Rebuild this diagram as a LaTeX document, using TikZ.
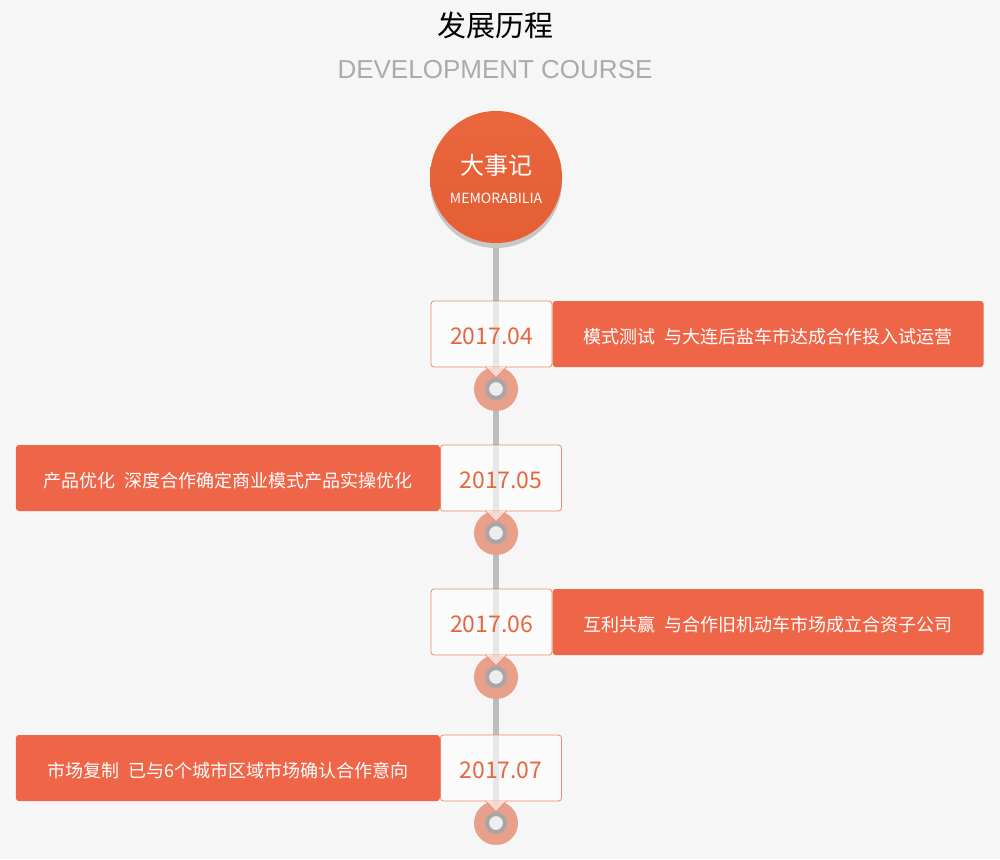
\documentclass[tikz,border=0pt]{standalone}
\usepackage{fontspec}
\setmainfont{Noto Sans CJK SC}
\newfontfamily\latinfont{Liberation Sans}
\usetikzlibrary{calc,shadows,backgrounds}
\definecolor{pagebg}{HTML}{F6F6F6}
\definecolor{mainorange}{HTML}{EF6548}
\definecolor{dateorange}{HTML}{E5663F}
\definecolor{framecol}{HTML}{E98A6E}
\definecolor{dotsalmon}{HTML}{E9A08A}
\definecolor{railgray}{HTML}{BDBDBD}
\definecolor{ringgray}{HTML}{A6A6A6}
\definecolor{ringfill}{HTML}{EEEEEE}
\definecolor{titlegray}{HTML}{ABABAB}
\definecolor{hubtop}{HTML}{EA663C}
\definecolor{hubbottom}{HTML}{E55E34}

\begin{document}
\begin{tikzpicture}[
    x=1pt, y=-1pt,
    hub/.style={
        circle, minimum size=132pt, inner sep=0pt,
        top color=hubtop, bottom color=hubbottom,
        drop shadow={shadow xshift=0pt, shadow yshift=-5pt, fill=black!22, opacity=1}
    },
    hubtext/.style={text=white, inner sep=0pt},
    datebox/.style={
        rectangle, rounded corners=3pt, draw=framecol, line width=0.8pt,
        fill=white, fill opacity=0.65, text opacity=1, text=dateorange,
        minimum width=121pt, minimum height=66pt, inner sep=0pt,
        text height=21pt, text depth=0pt,
        font=\fontsize{23}{26}\selectfont
    },
    eventbox/.style={
        rectangle, rounded corners=3pt, fill=mainorange, text=white,
        minimum height=66pt, inner sep=0pt,
        text height=18.6pt, text depth=0pt,
        font=\fontsize{18}{21}\selectfont
    },
    dot/.style={circle, fill=dotsalmon, minimum size=44pt, inner sep=0pt},
    ring/.style={circle, draw=ringgray, fill=ringfill, line width=4pt, minimum size=18pt, inner sep=0pt},
    pointer/.style={draw=framecol, fill=white, fill opacity=0.6, line width=0.8pt, line join=round},
    rail/.style={draw=railgray, line width=6pt}
]

\useasboundingbox (0,0) rectangle (1000,859);

% titles
\node[font=\fontsize{29}{32}\selectfont] (title) at (495,25) {发展历程};
\node[text=titlegray, font=\latinfont\fontsize{26}{30}\selectfont] (subtitle) at (495,70) {DEVELOPMENT COURSE};

% hub circle
\node[hub] (hub) at (496,177) {};
\node[hubtext, font=\fontsize{24}{27}\selectfont] (hubcn) at ($(hub.center)+(0,-12)$) {大事记};
\node[hubtext, font=\fontsize{14}{16}\selectfont] (huben) at ($(hub.center)+(0,21)$) {MEMORABILIA};

% milestones
\foreach \i/\yy/\dx/\eanc/\dside/\w/\dt/\txt in {
    0/334/491.5/west/east/431/2017.04/{模式测试\hspace{0.5em}与大连后盐车市达成合作投入试运营},
    1/478/501/east/west/424/2017.05/{产品优化\hspace{0.5em}深度合作确定商业模式产品实操优化},
    2/622/491.5/west/east/431/2017.06/{互利共赢\hspace{0.5em}与合作旧机动车市场成立合资子公司},
    3/768/501/east/west/424/2017.07/{市场复制\hspace{0.5em}已与6个城市区域市场确认合作意向}
} {
    \node[dot] (M\i) at (496,\yy+55) {};
    \node[ring] (R\i) at (M\i.center) {};
    \node[datebox] (D\i) at (\dx,\yy) {\dt};
    \node[eventbox, minimum width=\w pt, anchor=\eanc] (E\i) at (D\i.\dside) {\txt};
    \path[pointer] ($(M\i.north)+(-10.5,0)$) -- ($(M\i.north)+(0,11)$) -- ($(M\i.north)+(10.5,0)$);
}

\begin{scope}[on background layer]
    \fill[pagebg] (0,0) rectangle (1000,859);
    \draw[rail] (hub.center) -- (M3.center);
\end{scope}

\end{tikzpicture}
\end{document}
